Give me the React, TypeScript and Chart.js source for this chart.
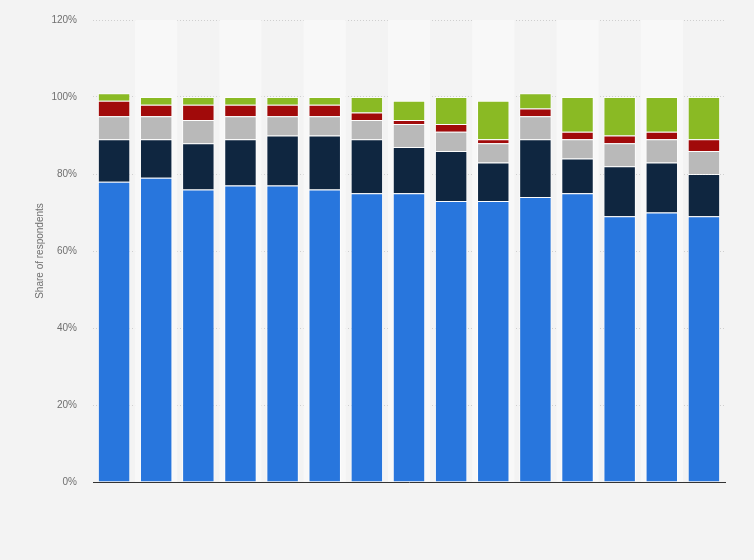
import { useEffect, useRef } from "react";
import { Chart, registerables } from "chart.js";

Chart.register(...registerables);

const categories = [
  "1", "2", "3", "4", "5", "6", "7", "8", "9", "10", "11", "12", "13", "14", "15",
];

const blueValues = [78, 79, 76, 77, 77, 76, 75, 75, 73, 73, 74, 75, 69, 70, 69];
const navyValues = [11, 10, 12, 12, 13, 14, 14, 12, 13, 10, 15, 9, 13, 13, 11];
const grayValues = [6, 6, 6, 6, 5, 5, 5, 6, 5, 5, 6, 5, 6, 6, 6];
const redValues = [4, 3, 4, 3, 3, 3, 2, 1, 2, 1, 2, 2, 2, 2, 3];
const greenValues = [2, 2, 2, 2, 2, 2, 4, 5, 7, 10, 4, 9, 10, 9, 11];

const yTicks = [0, 20, 40, 60, 80, 100, 120];

const FONT = "'Liberation Sans', Arial, sans-serif";

// lighter band behind every second column
const bandsPlugin = {
  id: "bands",
  beforeDatasetsDraw(chart: any) {
    const { ctx, chartArea, scales } = chart;
    const x = scales.x;
    const step = x.width / categories.length;
    ctx.save();
    ctx.fillStyle = "#f8f8f8";
    categories.forEach((_, i) => {
      if (i % 2 === 1) {
        const cx = x.getPixelForValue(i);
        ctx.fillRect(cx - step / 2, chartArea.top, step, chartArea.bottom - chartArea.top);
      }
    });
    ctx.restore();
  },
};

export default function App() {
  const canvasRef = useRef<HTMLCanvasElement>(null);
  const chartRef = useRef<Chart | null>(null);

  useEffect(() => {
    document.body.style.margin = "0";
    if (!canvasRef.current) return;
    const ctx = canvasRef.current.getContext("2d");
    if (!ctx) return;

    const seg = (label: string, data: number[], color: string) => ({
      label,
      data,
      backgroundColor: color,
      borderColor: "rgba(255,255,255,0.75)",
      borderWidth: 1,
      barPercentage: 0.77,
      categoryPercentage: 1,
    });

    chartRef.current?.destroy();
    chartRef.current = new Chart(ctx, {
      type: "bar",
      data: {
        labels: categories,
        datasets: [
          seg("Series 1", blueValues, "#2876dd"),
          seg("Series 2", navyValues, "#0f2640"),
          seg("Series 3", grayValues, "#b9b9b9"),
          seg("Series 4", redValues, "#a10a0a"),
          seg("Series 5", greenValues, "#8aba24"),
        ],
      },
      options: {
        animation: false,
        responsive: false,
        layout: { padding: { top: 20, right: 29, bottom: 78, left: 0 } },
        plugins: {
          legend: { display: false },
          tooltip: { enabled: false },
        },
        scales: {
          x: {
            stacked: true,
            ticks: { display: false },
            grid: { display: false },
            border: { display: true, color: "#333333", width: 1 },
            afterFit: (s: any) => {
              s.height = 0;
              s.paddingLeft = 0;
              s.paddingRight = 0;
            },
          },
          y: {
            stacked: true,
            min: 0,
            max: 120,
            afterBuildTicks: (s: any) => {
              s.ticks = yTicks.map((v) => ({ value: v }));
            },
            afterFit: (s: any) => {
              s.width = 93;
              s.paddingTop = 0;
              s.paddingBottom = 0;
            },
            ticks: {
              padding: 16,
              color: "#6f6f6f",
              font: { family: FONT, size: 10 },
              callback: (v: any) => `${v}%`,
            },
            grid: {
              color: "#cfcfcf",
              drawTicks: false,
              lineWidth: 1,
            },
            border: { display: false, dash: [1, 2] },
            title: {
              display: true,
              text: "Share of respondents",
              color: "#6f6f6f",
              font: { family: FONT, size: 10 },
              padding: { top: 34, bottom: 0 },
            },
          },
        },
      },
      plugins: [bandsPlugin],
    });

    return () => {
      chartRef.current?.destroy();
      chartRef.current = null;
    };
  }, []);

  return (
    <div
      style={{
        position: "fixed",
        left: 0,
        top: 0,
        width: 754,
        height: 560,
        background: "#f3f3f3",
      }}
    >
      <canvas ref={canvasRef} width={754} height={560}></canvas>
    </div>
  );
}
